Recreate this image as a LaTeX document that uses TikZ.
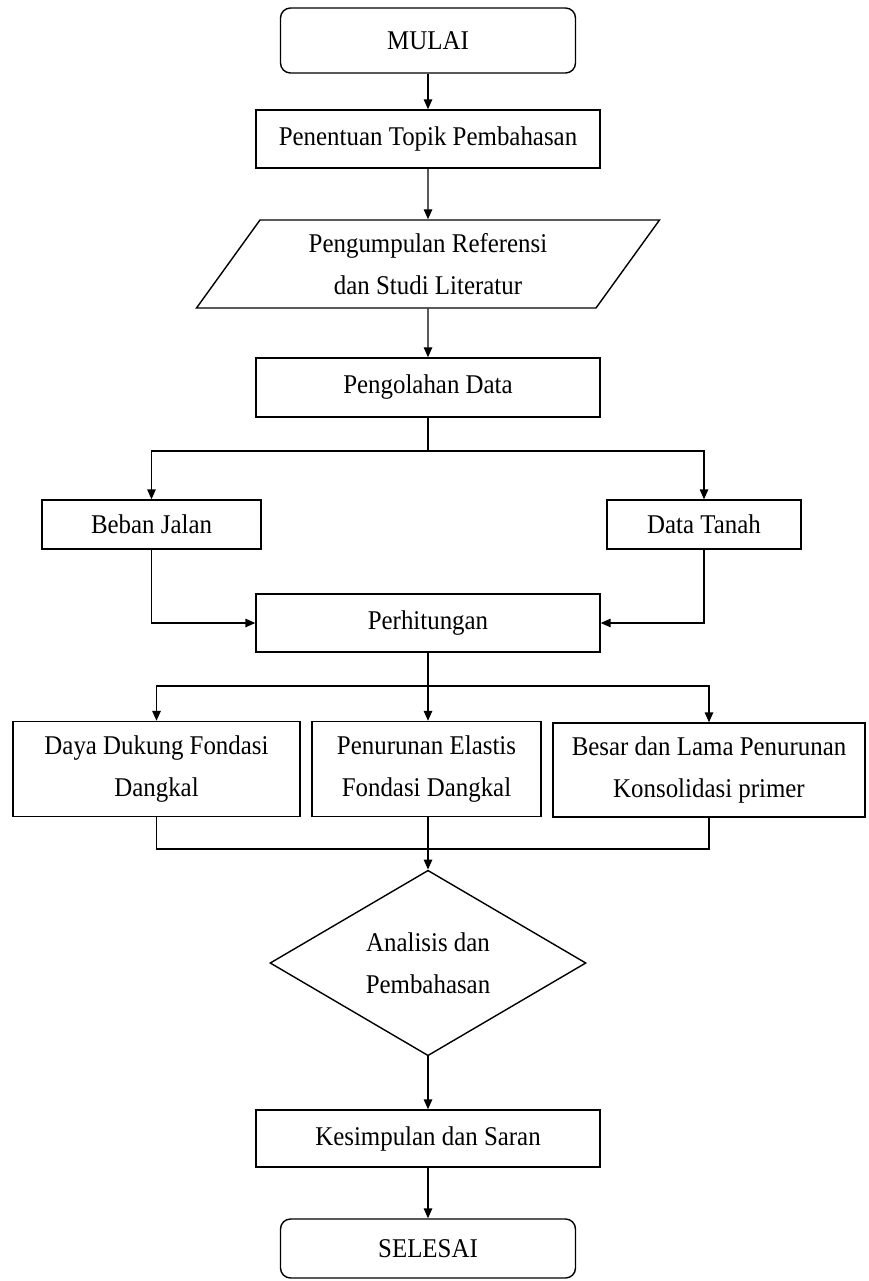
\documentclass[tikz,border=0pt]{standalone}
\usepackage{fontspec}
\setmainfont{Liberation Serif}[FakeStretch=0.92]
\usetikzlibrary{shapes.geometric,arrows.meta}
\begin{document}
\begin{tikzpicture}[
 x=0.2mm, y=-0.2mm,
 line width=0.8pt,
 >={Triangle[length=2mm,width=1.7mm]},
 align=center,
 inner sep=0pt,
 font=\fontsize{15.4}{23.9}\selectfont,
 box/.style={draw=black,rectangle,minimum width=68.8mm,minimum height=11.6mm},
 small/.style={draw=black,rectangle,minimum height=9.8mm},
 tall/.style={draw=black,rectangle,minimum height=19mm},
 terminal/.style={draw=black,rectangle,rounded corners=2mm,minimum width=59mm},
 data/.style={draw=black,trapezium,trapezium left angle=44,trapezium right angle=136,
   trapezium stretches body,minimum width=92.6mm,minimum height=17.6mm},
 decision/.style={draw=black,diamond,minimum width=63.2mm,minimum height=36mm}
]
\useasboundingbox (0,0) rectangle (868,1281);
\node (mulai-box) [terminal,minimum height=13mm] at (428,40.5) {MULAI};
\node (topik-box) [box] at (428,139) {Penentuan Topik Pembahasan};
\node (referensi-box) [data] at (428,264) {Pengumpulan Referensi\\dan Studi Literatur};
\node (olah-box) [box,minimum height=11.8mm] at (428,387.5) {Pengolahan Data};
\node (beban-box) [small,minimum width=43.8mm] at (151.5,524.5) {Beban Jalan};
\node (tanah-box) [small,minimum width=38.8mm] at (704,524.5) {Data Tanah};
\node (hitung-box) [box] at (428,623) {Perhitungan};
\node (daya-box) [tall,minimum width=57.4mm] at (156.5,769) {Daya Dukung Fondasi\\Dangkal};
\node (elastis-box) [tall,minimum width=45.8mm] at (426.5,769) {Penurunan Elastis\\Fondasi Dangkal};
\node (konsolidasi-box) [tall,minimum width=62.4mm,minimum height=18.8mm] at (709,770) {Besar dan Lama Penurunan\\Konsolidasi primer};
\node (analisis-box) [decision] at (428,963) {Analisis dan\\Pembahasan};
\node (kesimpulan-box) [box,minimum height=11.4mm] at (428,1138.5) {Kesimpulan dan Saran};
\node (selesai-box) [terminal,minimum height=11.8mm] at (428,1248.5) {SELESAI};
\coordinate (split1) at (428,451);
\coordinate (split2) at (428,686);
\coordinate (join) at (428,849);
\draw[->] (mulai-box) -- (topik-box);
\draw[->] (topik-box) -- (referensi-box);
\draw[->] (referensi-box) -- (olah-box);
\draw (olah-box.south) -- (split1);
\draw[->] (split1) -| (beban-box.north);
\draw[->] (split1) -| (tanah-box.north);
\draw[->] (beban-box.south) |- (hitung-box.west);
\draw[->] (tanah-box.south) |- (hitung-box.east);
\draw (hitung-box.south) -- (split2);
\draw[->] (split2) -| (daya-box.north);
\draw[->] (split2) -- (split2 |- elastis-box.north);
\draw[->] (split2) -| (konsolidasi-box.north);
\draw (daya-box.south) |- (join) -| (konsolidasi-box.south);
\draw[->] (join |- elastis-box.south) -- (analisis-box.north);
\draw[->] (analisis-box) -- (kesimpulan-box);
\draw[->] (kesimpulan-box) -- (selesai-box);
\end{tikzpicture}
\end{document}
